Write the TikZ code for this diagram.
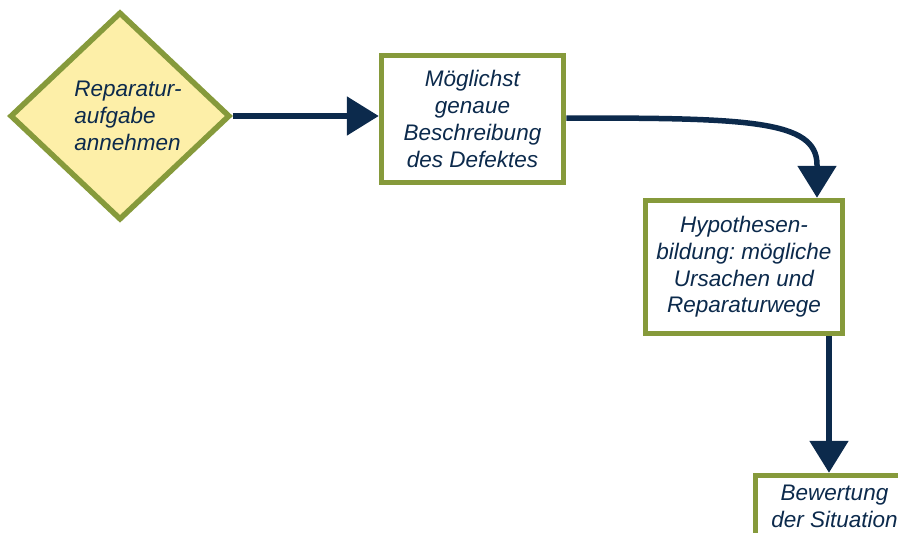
\documentclass[tikz,border=0pt]{standalone}
\usepackage{fontspec}
\setmainfont{Liberation Sans}
\usetikzlibrary{shapes.geometric,arrows.meta}
\definecolor{olivegrn}{HTML}{869A3B}
\definecolor{navy}{HTML}{0C2A4C}
\definecolor{paleyel}{HTML}{FDEFA8}
\frenchspacing
\begin{document}
\begin{tikzpicture}[
       x = 1pt, y = -1pt,
    step box/.style = {draw=olivegrn, line width=5.5pt, fill=white, align=center,
                       inner sep=2pt, font=\fontsize{22.5}{26.7}\selectfont\itshape, text=navy},
   start box/.style = {shape=diamond, draw=olivegrn, line width=5.5pt, fill=paleyel, align=left,
                       inner sep=0pt, font=\fontsize{22.5}{26.7}\selectfont\itshape, text=navy},
        flow/.style = {draw=navy, line width=5.5pt, -{Triangle[width=38pt,length=32pt]}}
                    ]
\useasboundingbox (0,0) rectangle (898,533);

\node[start box, minimum width=220pt, minimum height=208pt] (start) at (120,116)
     {\hspace*{16pt}Reparatur-\\\hspace*{16pt}aufgabe\\\hspace*{16pt}annehmen};
\node[step box, minimum width=182pt, minimum height=127pt] (desc) at (472.5,119)
     {Möglichst\\genaue\\Beschreibung\\des Defektes};
\node[step box, minimum width=197pt, minimum height=133pt] (hyp) at (744,267)
     {Hypothesen-\\bildung: mögliche\\Ursachen und\\Reparaturwege};
\node[step box, minimum width=158pt, minimum height=62pt] (eval) at (834.5,506.5)
     {Bewertung\\der Situation};

\path[flow] (start.east) -- (start.east -| desc.west);
\path[flow] ([yshift=1pt]desc.east) .. controls +(180pt,0pt) and +(0pt,45pt)
            .. ([xshift=73pt,yshift=33pt]hyp.north) -- ([xshift=73pt]hyp.north);
\path[flow] ([xshift=85pt]hyp.south) -- ([xshift=85pt]hyp.south |- eval.north);

\end{tikzpicture}
\end{document}
